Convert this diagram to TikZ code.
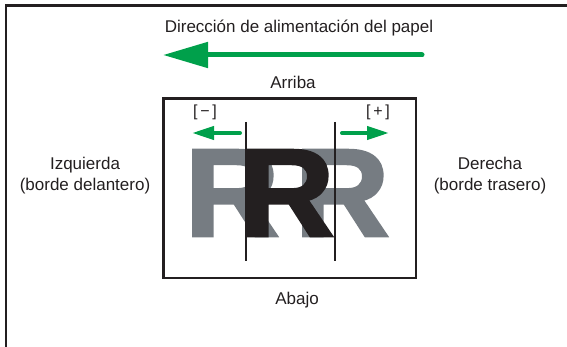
\documentclass[tikz,border=0pt]{standalone}
\usepackage{fontspec}
\setmainfont{Liberation Sans}
\newfontfamily\heavyR[FakeBold=2]{Liberation Sans Bold}
\usetikzlibrary{arrows.meta}
\definecolor{ink}{RGB}{35,31,32}
\definecolor{rgray}{RGB}{118,124,130}
\definecolor{fgreen}{RGB}{0,160,75}
\begin{document}
\begin{tikzpicture}[x=1pt,y=-1pt,
  lbl/.style={font=\fontsize{17}{21}\selectfont, text=ink, align=center, inner sep=0pt},
  sign/.style={font=\fontsize{16}{18}\selectfont, text=ink, inner sep=0pt},
  bigR/.style={font=\fontsize{125}{125}\heavyR, inner sep=0pt, anchor=base west},
  bigarrow/.style={fgreen, line width=5pt, line cap=round, -{Triangle[length=45pt,width=25pt]}},
  smallarrow/.style={fgreen, line width=4pt, line cap=round, -{Triangle[length=22pt,width=13pt]}},
  frameline/.style={ink, line width=2.5pt},
  cutline/.style={ink, line width=1.6pt}]
\useasboundingbox (0,0) rectangle (567,347);
% outer frame (top and left edges only)
\draw[frameline] (567,5.5) -- (6,5.5) -- (6,347);
% top label and feed arrow
\node[lbl] (feed) at (299,28) {Dirección de alimentación del papel};
\coordinate (fa1) at (422,55);
\coordinate (fa2) at (163,55);
\draw[bigarrow] (fa1) -- (fa2);
\node[lbl] (up) at (293,82) {Arriba};
\node[lbl] (down) at (297,300) {Abajo};
\node[lbl] (left) at (85,176) {Izquierda\\(borde delantero)};
\node[lbl] (right) at (490,176) {Derecha\\(borde trasero)};
% paper box
\draw[frameline] (163.5,98.5) rectangle (416,278);
% R letters
\node[bigR, text=rgray] (rl) at (184.5,236) {\scalebox{1.05}[1]{R}};
\node[bigR, text=rgray] (rr) at (294.5,236) {\scalebox{1.05}[1]{R}};
\node[bigR, text=ink] (rc) at (239.5,236) {\scalebox{1.05}[1]{R}};
% cut lines
\coordinate (l1) at (246,122);
\coordinate (l2) at (246,261);
\coordinate (r1) at (335,122);
\coordinate (r2) at (335,261);
\draw[cutline] (l1) -- (l2);
\draw[cutline] (r1) -- (r2);
% signs and small arrows
\node[sign] (minus) at (205,112) {[\,−\,]};
\node[sign] (plus) at (378,112) {[\,+\,]};
\coordinate (sa1) at (240,133);
\coordinate (sa2) at (192,133);
\coordinate (sb1) at (342,133);
\coordinate (sb2) at (389,133);
\draw[smallarrow] (sa1) -- (sa2);
\draw[smallarrow] (sb1) -- (sb2);
\end{tikzpicture}
\end{document}
